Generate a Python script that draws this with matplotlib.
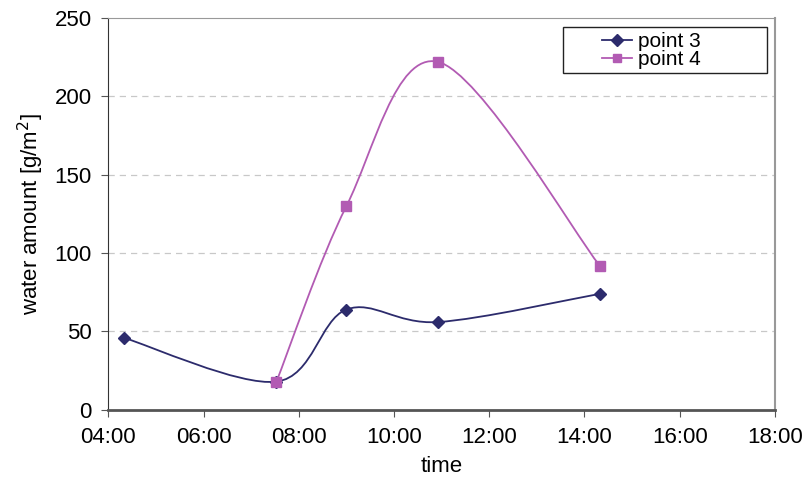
import numpy as np
import matplotlib
matplotlib.use("Agg")
import matplotlib.pyplot as plt
from matplotlib.path import Path
from matplotlib.patches import PathPatch, Rectangle
from matplotlib.lines import Line2D

plt.rcParams['font.family'] = ['Liberation Sans', 'DejaVu Sans']

# time in hours of the day
time_p3 = [4.32, 7.53, 9.0, 10.92, 14.32]
water_p3 = [46, 18, 64, 56, 74]
time_p4 = [7.53, 9.0, 10.92, 14.32]
water_p4 = [18, 130, 222, 92]

x_ticks = [4, 6, 8, 10, 12, 14, 16, 18]
x_labels = ["04:00", "06:00", "08:00", "10:00", "12:00", "14:00", "16:00", "18:00"]
y_ticks = [0, 50, 100, 150, 200, 250]

col_p3 = "#2c2b6c"
col_p4 = "#b25bb3"


def smooth_path(xs, ys):
    # excel-like smoothed line: bezier segments with catmull-rom control points
    pts = np.column_stack([xs, ys]).astype(float)
    n = len(pts)
    verts = [pts[0]]
    codes = [Path.MOVETO]
    for i in range(n - 1):
        p0 = pts[i - 1] if i > 0 else pts[i]
        p1 = pts[i]
        p2 = pts[i + 1]
        p3 = pts[i + 2] if i + 2 < n else pts[i + 1]
        c1 = p1 + (p2 - p0) / 6.0
        c2 = p2 - (p3 - p1) / 6.0
        verts += [c1, c2, p2]
        codes += [Path.CURVE4] * 3
    return Path(verts, codes)


fig = plt.figure(figsize=(8.03, 4.98), dpi=100)
ax = fig.add_axes([0.135, 0.177, 0.83, 0.787])

for xs, ys, c, m in [(time_p3, water_p3, col_p3, "D"),
                     (time_p4, water_p4, col_p4, "s")]:
    ax.add_patch(PathPatch(smooth_path(xs, ys), facecolor="none", edgecolor=c, lw=1.3, zorder=3))
    ax.plot(xs, ys, linestyle="none", marker=m, color=c, markersize=7 if m == "s" else 6.5, zorder=4)

ax.set_xlim(4, 18)
ax.set_ylim(0, 250)
ax.set_xticks(x_ticks)
ax.set_xticklabels(x_labels)
ax.set_yticks(y_ticks)
ax.tick_params(labelsize=16, direction="out", length=5, color="#555555", pad=7)
for y in y_ticks[1:-1]:
    ax.axhline(y, color="#c8c8c8", lw=0.9, ls=(0, (5, 4)), zorder=1)

ax.spines["bottom"].set_color("#555555")
ax.spines["bottom"].set_linewidth(2)
ax.spines["left"].set_color("#333333")
ax.spines["top"].set_color("#999999")
ax.spines["right"].set_color("#999999")
ax.spines["right"].set_linewidth(1.5)

ax.set_xlabel("time", fontsize=16, labelpad=6)
ax.set_ylabel("water amount [g/m$^2$]", fontsize=16, labelpad=6)

# legend box drawn separately, entries sit at its right side
ax.add_patch(Rectangle((0.682, 0.86), 0.306, 0.117, transform=ax.transAxes,
                       facecolor="white", edgecolor="#222222", lw=1.0, zorder=5))
handles = [Line2D([], [], color=col_p3, marker="D", markersize=6, lw=1.3),
           Line2D([], [], color=col_p4, marker="s", markersize=6, lw=1.3)]
leg = ax.legend(handles, ["point 3", "point 4"], loc="upper left", bbox_to_anchor=(0.741, 0.963),
                fontsize=15, frameon=False, handlelength=1.45, borderpad=0,
                labelspacing=-0.05, handletextpad=0.25, borderaxespad=0)
leg.set_zorder(6)

fig.savefig("out.png", dpi=100)
